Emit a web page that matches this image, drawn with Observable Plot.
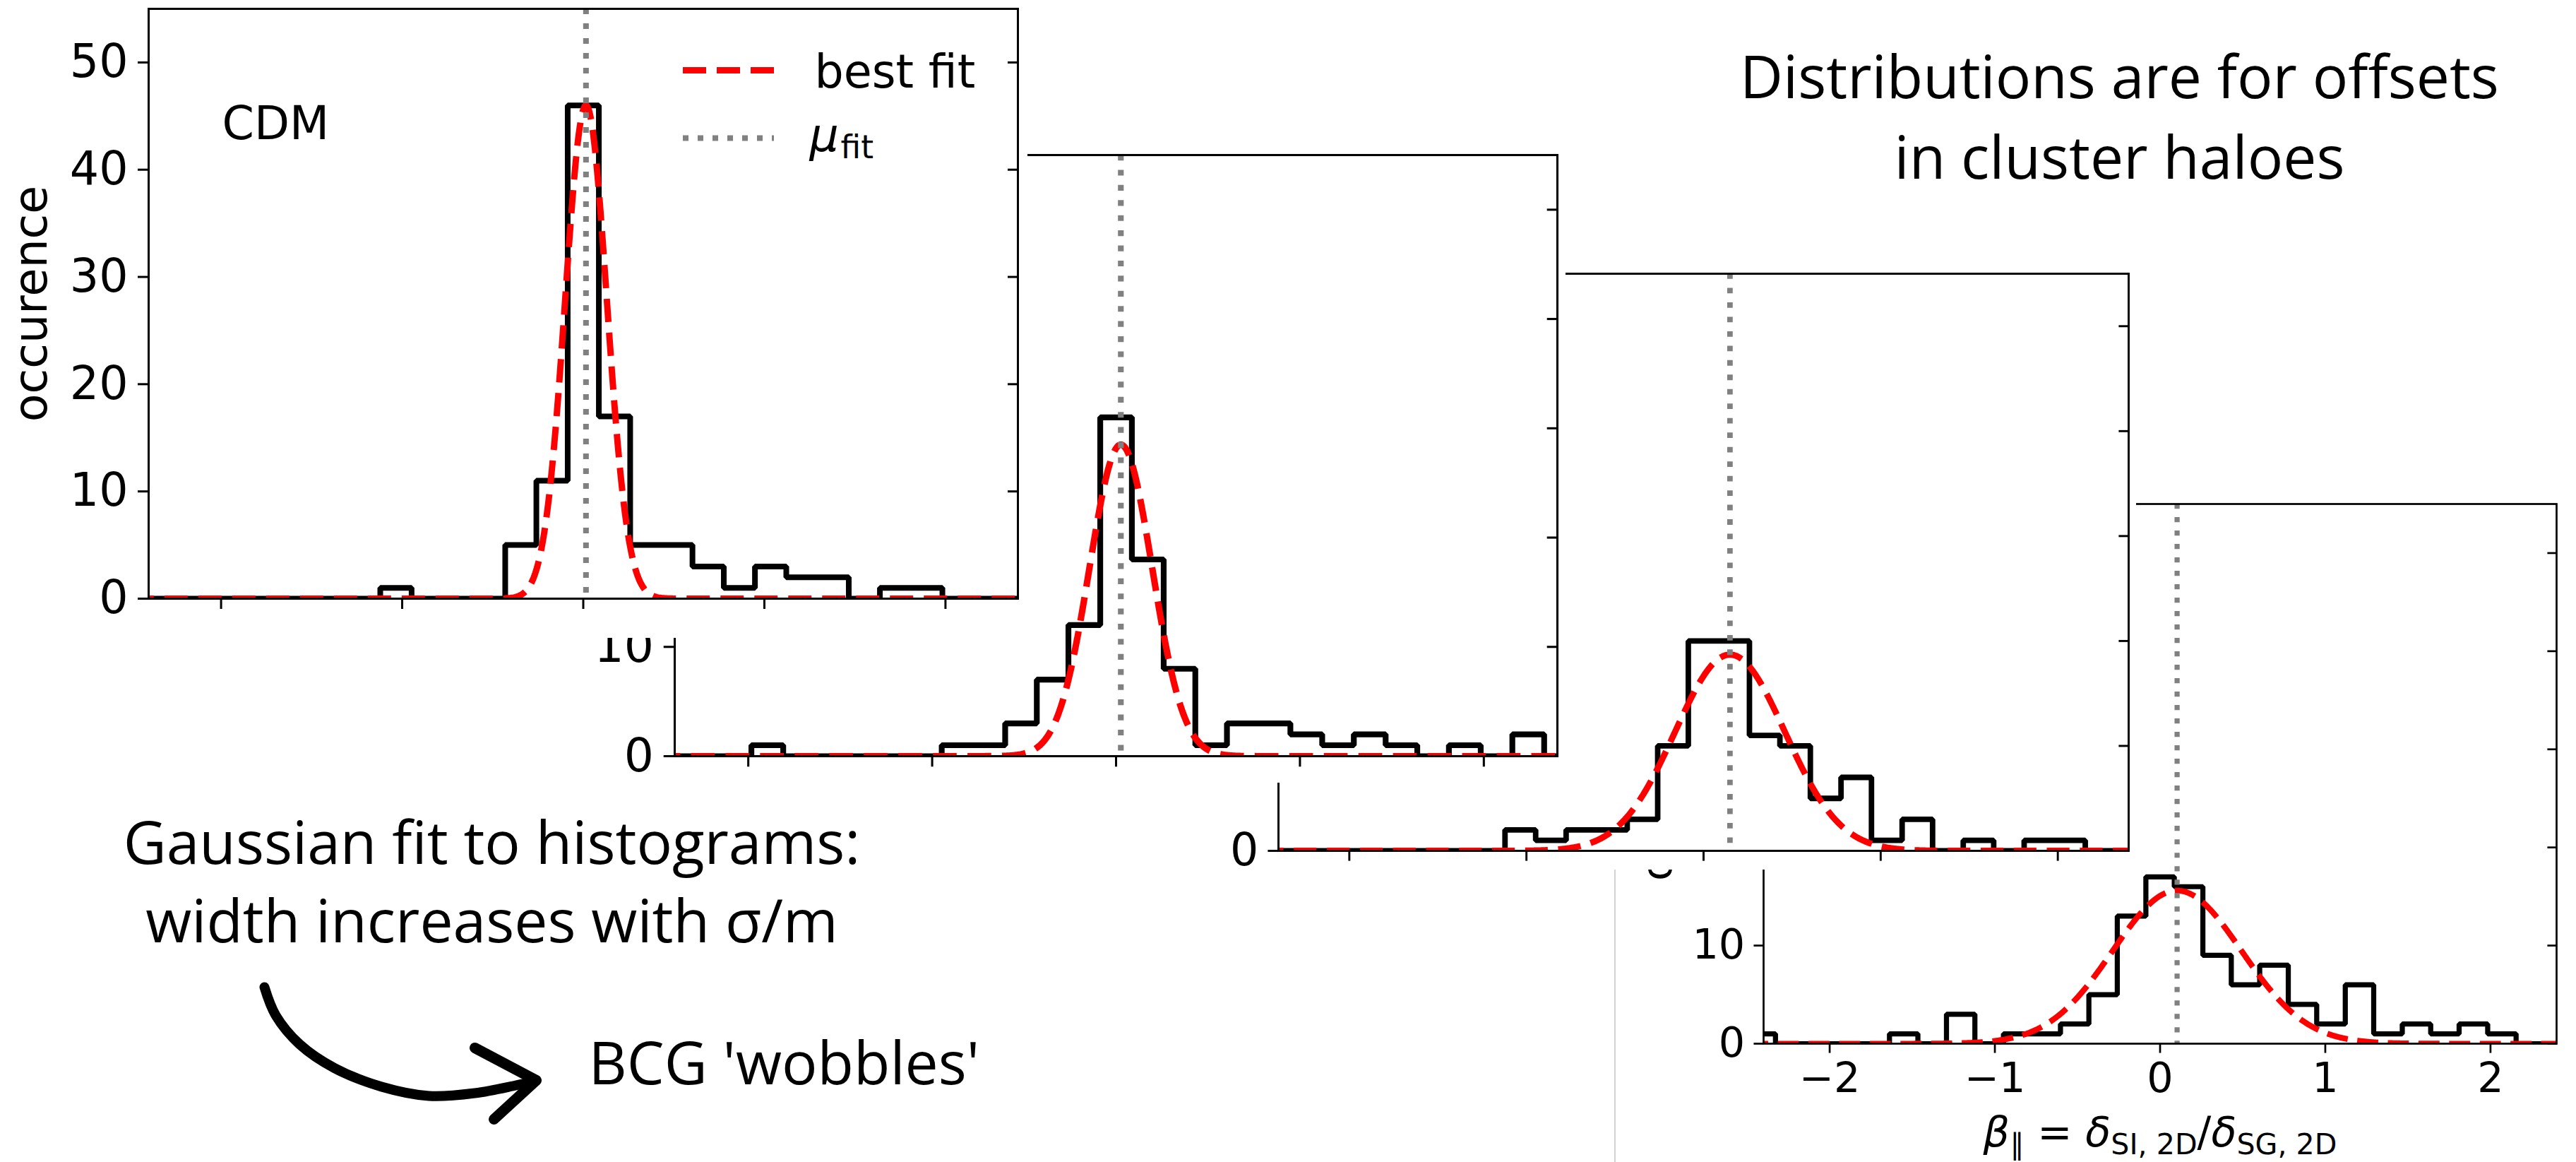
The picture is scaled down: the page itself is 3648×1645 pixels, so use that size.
<!DOCTYPE html>
<html>
<head>
<meta charset="utf-8">
<script src="https://cdn.jsdelivr.net/npm/d3@7"></script>
<script src="https://cdn.jsdelivr.net/npm/@observablehq/plot@0.6"></script>
<style>
html, body { margin: 0; padding: 0; background: #fff; }
#stage { position: relative; width: 3648px; height: 1645px; overflow: hidden; background: #fff; }
.layer { position: absolute; top: 0; }
.layer svg { display: block; max-width: none; }
</style>
</head>
<body>
<div id="stage"></div>
<script>
// ---------------- DATA ----------------
const binEdges = [-2.5, -2.328, -2.155, -1.983, -1.810, -1.638, -1.466, -1.293, -1.121, -0.948,
  -0.776, -0.603, -0.431, -0.259, -0.086, 0.086, 0.259, 0.431, 0.603, 0.776,
  0.948, 1.121, 1.293, 1.466, 1.638, 1.810, 1.983, 2.155, 2.328, 2.5];
const countsCDM = [0,0,0,0,0,0,0,0,1,0,0,0,5,11,46,17,5,5,3,1,3,2,2,0,1,1,0,0,0];
const countsP2  = [0,0,0,1,0,0,0,0,0,1,1,3,7,12,31,18,8,1,3,3,2,1,2,1,0,1,0,2,0];
const countsP3  = [0,0,0,0,0,0,0,0,2,1,2,2,3,10,20,20,11,10,5,7,1,3,0,1,0,1,1,0,0];
const countsP4  = [1,0,0,0,0,1,0,3,0,1,1,2,5,13,17,16,9,6,8,4,2,6,1,2,1,2,1,0,0];
const fitAmplitude = [46, 28.5, 18.7, 15.6];
const fitMu        = [0.015, 0.026, 0.149, 0.103];
const fitSigma     = [0.115, 0.17, 0.31, 0.39];
const xTicks = [-2, -1, 0, 1, 2];
const yTicks = [0, 10, 20, 30, 40, 50];
const xDomain = [-2.4, 2.4];
const yDomain = [0, 55];
const yLabel = "occurence";
const xLabel = "β∥ = δSI, 2D/δSG, 2D";
const panelTag = "CDM";
const legendLabels = ["best fit", "μ", "fit"];
const noteTop = ["Distributions are for offsets", "in cluster haloes"];
const noteLeft = ["Gaussian fit to histograms:", "width increases with σ/m"];
const noteArrow = "BCG 'wobbles'";

// ---------------- LAYOUT (pixels) ----------------
const W = 3648, H = 1645;
const panelLayout = [
  {s: 1.0,   plotL: 210,  plotR: 1441, plotT: 12,  plotB: 847,  svgL: 0,    svgR: 1455, svgH: 903,  xLabels: false},
  {s: 1.02,  plotL: 955,  plotR: 2205, plotT: 219, plotB: 1070, svgL: 780,  svgR: 2217, svgH: 1108, xLabels: false},
  {s: 0.975, plotL: 1810, plotR: 3014, plotT: 387, plotB: 1204, svgL: 1300, svgR: 3025, svgH: 1231, xLabels: false},
  {s: 0.905, plotL: 2497, plotR: 3620, plotT: 713, plotB: 1477, svgL: 2288, svgR: 3648, svgH: 1645, xLabels: true}
];
const panelCounts = [countsCDM, countsP2, countsP3, countsP4];
const arrowX = [374, 390, 424, 474, 540, 607, 672, 730, 757];
const arrowY = [1397, 1437, 1478, 1512, 1538, 1551, 1547, 1536, 1530];
const arrowHeadX = [672, 759, 699];
const arrowHeadY = [1483, 1529, 1584];

const NS = "http://www.w3.org/2000/svg";
const stage = document.getElementById("stage");
const gridX = d3.range(-2.5, 2.5001, 0.005);
const intFormat = d3.format("d");

function stepPoints(edges, counts) {
  const pts = [{x: edges[0], y: 0}];
  counts.forEach((c, k) => { pts.push({x: edges[k], y: c}); pts.push({x: edges[k + 1], y: c}); });
  pts.push({x: edges[edges.length - 1], y: 0});
  return pts;
}

function richText(svg, match, parts) {
  svg.querySelectorAll("text").forEach(t => {
    if (t.textContent === match) {
      t.textContent = "";
      parts.forEach(p => {
        const ts = document.createElementNS(NS, "tspan");
        ts.textContent = p.t;
        if (p.italic) ts.setAttribute("font-style", "italic");
        if (p.size) ts.setAttribute("font-size", p.size);
        if (p.dy) ts.setAttribute("dy", p.dy);
        t.appendChild(ts);
      });
    }
  });
}

panelLayout.forEach((L, i) => {
  const s = L.s, fs = 65 * s;
  const hist = stepPoints(binEdges, panelCounts[i]);
  const fit = gridX.map(x => ({x, y: fitAmplitude[i] * Math.exp(-((x - fitMu[i]) ** 2) / (2 * fitSigma[i] ** 2))}));
  const width = L.svgR - L.svgL;
  const marks = [
    Plot.line(hist, {x: "x", y: "y", stroke: "black", strokeWidth: 8 * s, strokeLinejoin: "miter", strokeLinecap: "butt", clip: true}),
    Plot.line(fit, {x: "x", y: "y", stroke: "red", strokeWidth: 9 * s, strokeDasharray: `${33 * s},${15 * s}`, strokeLinecap: "butt", clip: true}),
    Plot.ruleX([fitMu[i]], {stroke: "#808080", strokeWidth: 8 * s, strokeDasharray: `${8 * s},${13 * s}`, clip: true}),
    Plot.frame({stroke: "black", strokeWidth: 3 * s}),
    Plot.axisX({ticks: xTicks, tickSize: 15 * s, tickPadding: 14 * s, strokeWidth: 3 * s, label: null,
      tickFormat: L.xLabels ? intFormat : () => ""}),
    Plot.axisY({anchor: "left", ticks: yTicks, tickSize: 15 * s, tickPadding: 14 * s, strokeWidth: 3 * s, label: null, tickFormat: intFormat}),
    Plot.axisY({anchor: "right", ticks: yTicks, tickSize: -15 * s, strokeWidth: 3 * s, label: null, tickFormat: () => ""}),
    Plot.text([yLabel], {text: d => d, frameAnchor: "left", rotate: -90, dx: -165 * s, fontSize: fs, textAnchor: "middle"})
  ];
  if (L.xLabels) {
    marks.push(Plot.text([xLabel], {text: d => d, frameAnchor: "bottom", dy: 145, lineAnchor: "bottom", fontSize: fs, textAnchor: "middle"}));
  }
  const svg = Plot.plot({
    width, height: L.svgH,
    marginLeft: L.plotL - L.svgL, marginRight: L.svgR - L.plotR, marginTop: L.plotT, marginBottom: L.svgH - L.plotB,
    x: {domain: xDomain},
    y: {domain: yDomain},
    style: {background: "white", fontFamily: "DejaVu Sans", fontSize: `${fs}px`, color: "black", overflow: "hidden", maxWidth: "none"},
    marks
  });
  if (L.xLabels) {
    const sub = 0.7 * fs, sh = 0.2 * fs;
    richText(svg, xLabel, [
      {t: "β", italic: true}, {t: "∥", size: sub, dy: sh}, {t: " = ", size: fs, dy: -sh},
      {t: "δ", italic: true}, {t: "SI, 2D", size: sub, dy: sh}, {t: "/", size: fs, dy: -sh},
      {t: "δ", italic: true}, {t: "SG, 2D", size: sub, dy: sh}
    ]);
  }
  const div = document.createElement("div");
  div.className = "layer";
  div.style.left = L.svgL + "px";
  div.style.width = width + "px";
  div.style.zIndex = String(10 - i);
  if (i === 3) { div.style.left = (L.svgL - 2) + "px"; div.style.borderLeft = "2px solid #d2d2d2"; }
  div.appendChild(svg);
  stage.appendChild(div);
});

// ---------------- annotation overlay ----------------
const annFont = "Open Sans";
const annSize = 84;
const overlay = Plot.plot({
  width: W, height: H, margin: 0,
  axis: null,
  x: {type: "identity", axis: null}, y: {type: "identity", axis: null},
  style: {background: "transparent", overflow: "hidden", maxWidth: "none"},
  marks: [
    // legend & tag of the CDM panel
    Plot.ruleY([99], {x1: 967, x2: 1096, stroke: "red", strokeWidth: 9, strokeDasharray: "33,15"}),
    Plot.ruleY([195], {x1: 967, x2: 1096, stroke: "#808080", strokeWidth: 8, strokeDasharray: "8,13"}),
    Plot.text([legendLabels[0]], {text: d => d, x: 1153, y: 123, lineAnchor: "bottom", textAnchor: "start", fontSize: 65, fontFamily: "DejaVu Sans"}),
    Plot.text([legendLabels[1]], {text: d => d, x: 1146, y: 213, lineAnchor: "bottom", textAnchor: "start", fontSize: 65, fontStyle: "italic", fontFamily: "DejaVu Sans"}),
    Plot.text([legendLabels[2]], {text: d => d, x: 1190, y: 223, lineAnchor: "bottom", textAnchor: "start", fontSize: 45.5, fontFamily: "DejaVu Sans"}),
    Plot.text([panelTag], {text: d => d, x: 314, y: 196, lineAnchor: "bottom", textAnchor: "start", fontSize: 65, fontFamily: "DejaVu Sans"}),
    // notes
    Plot.text(noteTop, {text: d => d, x: 3001, y: (d, j) => 138 + j * 114, lineAnchor: "bottom", textAnchor: "middle", fontSize: annSize, fontFamily: annFont}),
    Plot.text(noteLeft, {text: d => d, x: 696, y: (d, j) => 1222 + j * 111, lineAnchor: "bottom", textAnchor: "middle", fontSize: annSize, fontFamily: annFont}),
    Plot.text([noteArrow], {text: d => d, x: 833, y: 1534, lineAnchor: "bottom", textAnchor: "start", fontSize: annSize, fontFamily: annFont}),
    // hand-drawn arrow
    Plot.line(arrowX.map((x, j) => ({x, y: arrowY[j]})), {x: "x", y: "y", curve: "catmull-rom", stroke: "black", strokeWidth: 14, strokeLinecap: "round"}),
    Plot.line(arrowHeadX.map((x, j) => ({x, y: arrowHeadY[j]})), {x: "x", y: "y", stroke: "black", strokeWidth: 15, strokeLinecap: "round", strokeLinejoin: "round"})
  ]
});
const od = document.createElement("div");
od.className = "layer";
od.style.left = "0px";
od.style.zIndex = "50";
od.appendChild(overlay);
stage.appendChild(od);
</script>
</body>
</html>
